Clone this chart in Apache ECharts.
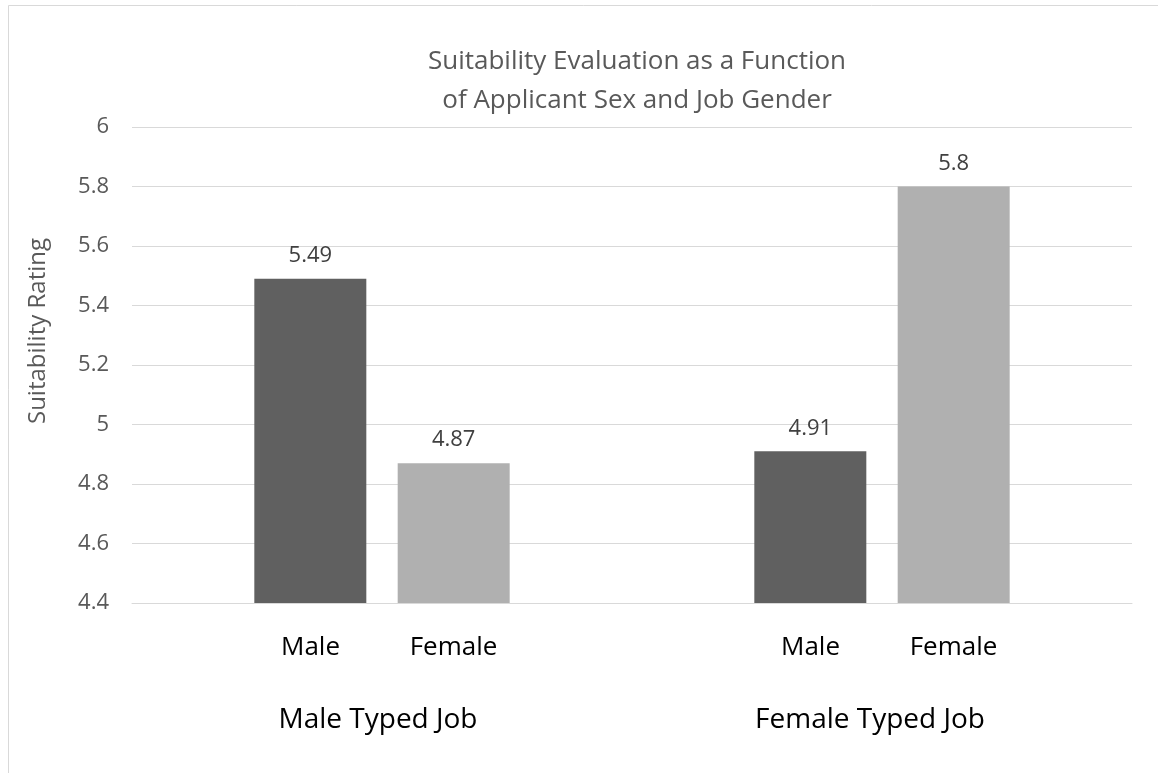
<!DOCTYPE html>
<html>
<head>
<meta charset="utf-8">
<script src="https://cdn.jsdelivr.net/npm/echarts@6/dist/echarts.min.js"></script>
<style>html,body{margin:0;padding:0;background:#fff}#c{width:1158px;height:773px}</style>
</head>
<body>
<div id="c"></div>
<script>
const titleText = 'Suitability Evaluation as a Function\nof Applicant Sex and Job Gender';
const categories = ['Male Typed Job', 'Female Typed Job'];
const seriesNames = ['Male', 'Female'];
const maleValues = [5.49, 4.91];
const femaleValues = [4.87, 5.8];
const yName = 'Suitability Rating';
const yMin = 4.4, yMax = 6, yStep = 0.2;

const FONT = '"Open Sans", sans-serif';
const chart = echarts.init(document.getElementById('c'), null, {renderer: 'canvas'});
chart.setOption({
  animation: false,
  backgroundColor: '#fff',
  textStyle: {fontFamily: FONT},
  graphic: [{type: 'rect', shape: {x: 8.5, y: 5.5, width: 1200, height: 900}, style: {fill: 'none', stroke: '#d9d9d9', lineWidth: 1}, silent: true}],
  title: {
    text: titleText, left: 632, top: 37, textAlign: 'center',
    textStyle: {fontFamily: FONT, fontSize: 26, fontWeight: 'normal', color: '#595959', lineHeight: 39}
  },
  grid: {left: 132, right: 26, top: 127, bottom: 170},
  xAxis: {
    type: 'category', data: categories,
    axisLine: {show: true, lineStyle: {color: '#d9d9d9', width: 1}},
    axisTick: {show: false},
    axisLabel: {
      margin: 30, interval: 0, color: '#000',
      formatter: function (v, i) { return '{s|' + seriesNames[0] + '}{s|' + seriesNames[1] + '}\n{g' + i + '|' + v + '}'; },
      rich: {
        s: {width: 143, align: 'center', fontSize: 26, lineHeight: 30, color: '#000', fontFamily: FONT},
        g0: {fontSize: 28, lineHeight: 114, color: '#000', fontFamily: FONT, padding: [0, 8, 0, 0]},
        g1: {fontSize: 28, lineHeight: 114, color: '#000', fontFamily: FONT, padding: [0, 24, 0, 0]}
      }
    }
  },
  yAxis: {
    type: 'value', min: yMin, max: yMax, interval: yStep,
    name: yName, nameLocation: 'middle', nameGap: 82, nameRotate: 90,
    nameTextStyle: {fontSize: 24, color: '#595959', fontFamily: FONT, padding: [0, 0, 0, 68]},
    axisLine: {show: false}, axisTick: {show: false},
    axisLabel: {margin: 23, fontSize: 22, color: '#595959', fontFamily: FONT, formatter: function (v) { return String(+v.toFixed(2)); }},
    splitLine: {lineStyle: {color: '#d9d9d9', width: 1}}
  },
  series: [
    {name: seriesNames[0], type: 'bar', data: maleValues, barWidth: 112, barGap: '28%',
     itemStyle: {color: '#606060'},
     label: {show: true, position: 'top', distance: 12, fontSize: 22, color: '#404040', fontFamily: FONT}},
    {name: seriesNames[1], type: 'bar', data: femaleValues, barWidth: 112, barGap: '28%',
     itemStyle: {color: '#b0b0b0'},
     label: {show: true, position: 'top', distance: 12, fontSize: 22, color: '#404040', fontFamily: FONT}}
  ]
});
</script>
</body>
</html>
